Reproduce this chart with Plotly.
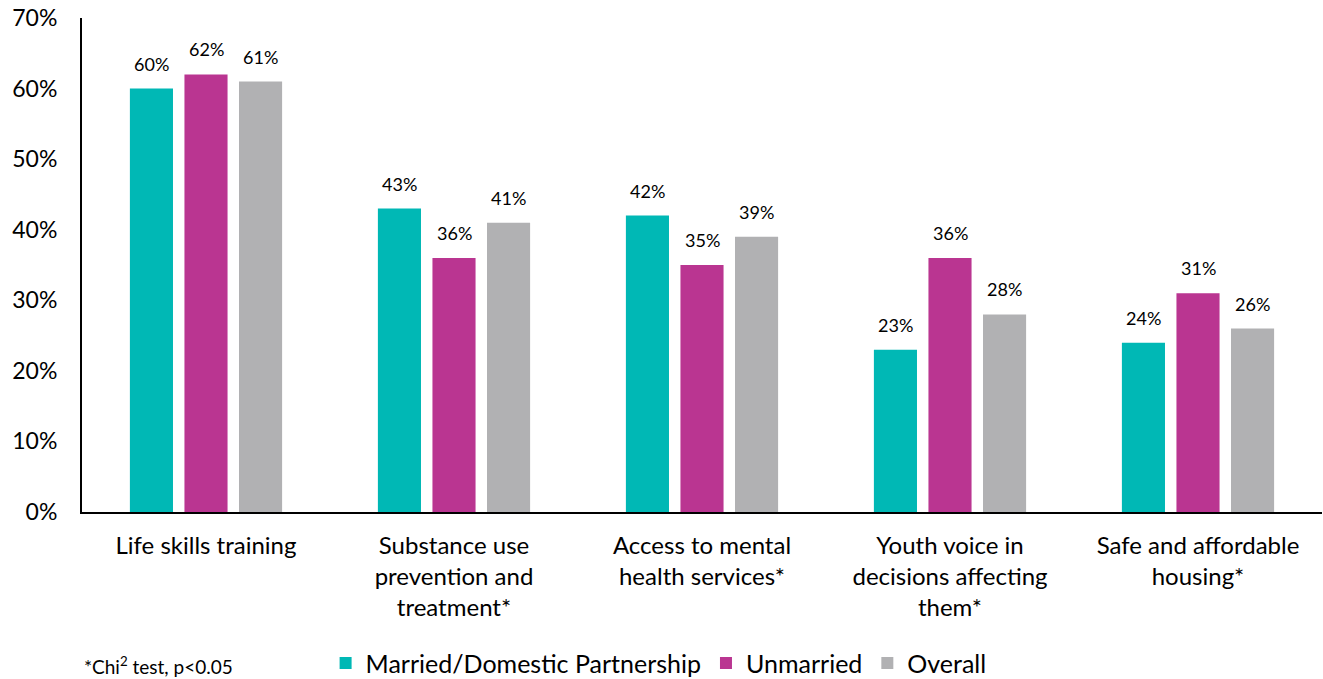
import plotly.graph_objects as go

categories = ["Life skills training", "Substance use<br>prevention and<br>treatment*",
              "Access to mental<br>health services*", "Youth voice in<br>decisions affecting<br>them*",
              "Safe and affordable<br>housing*"]
married = [60, 43, 42, 23, 24]
unmarried = [62, 36, 35, 36, 31]
overall = [61, 41, 39, 28, 26]
series_names = ["Married/Domestic Partnership", "Unmarried", "Overall"]
colors = ["#00B8B5", "#BA3591", "#B1B1B3"]
yticks = [0, 10, 20, 30, 40, 50, 60, 70]

FONT = "Lato, 'Open Sans', sans-serif"
BARGAP = 0.34
BARGROUPGAP = 0.21
fig = go.Figure()
all_series = [married, unmarried, overall]
for name, vals, col in zip(series_names, all_series, colors):
    fig.add_trace(go.Bar(
        x=categories, y=vals, name=name, marker_color=col, marker_line_width=0,
    ))

# data labels placed above bars
slot = (1 - BARGAP) / len(all_series)
for k, vals in enumerate(all_series):
    for i, v in enumerate(vals):
        fig.add_annotation(x=i + (k - 1) * slot, xref="x", y=v, yref="y",
                           text=f"{v}%", showarrow=False, yanchor="bottom", yshift=12,
                           font=dict(size=18, family=FONT, color="#000000"))

fig.update_layout(
    barmode="group", bargap=BARGAP, bargroupgap=BARGROUPGAP,
    width=1323, height=679,
    margin=dict(l=82, r=1, t=18, b=167, autoexpand=False),
    plot_bgcolor="white", paper_bgcolor="white",
    font=dict(family=FONT, color="#000000"),
    showlegend=True,
    legend=dict(orientation="h", x=0.465, xanchor="center", y=-0.306, yanchor="middle",
                font=dict(size=25, family=FONT), itemwidth=30, traceorder="normal"),
)
fig.update_yaxes(range=[0, 70], tickvals=yticks, ticktext=[f"{t}%" for t in yticks],
                 showgrid=False, zeroline=False, showline=True, linecolor="#000000", linewidth=2,
                 ticks="", tickfont=dict(size=23, family=FONT), ticklabelstandoff=18,
                 automargin=False)
fig.update_xaxes(showline=True, linecolor="#000000", linewidth=2, ticks="",
                 tickfont=dict(size=24, family=FONT), ticklabelstandoff=11, automargin=False)
fig.add_annotation(text="*Chi<sup>2</sup> test, p<0.05", x=0.0, xref="paper", y=-0.31, yref="paper",
                   showarrow=False, xanchor="left", yanchor="middle",
                   font=dict(size=19, family=FONT))
fig.write_html("out.html")
